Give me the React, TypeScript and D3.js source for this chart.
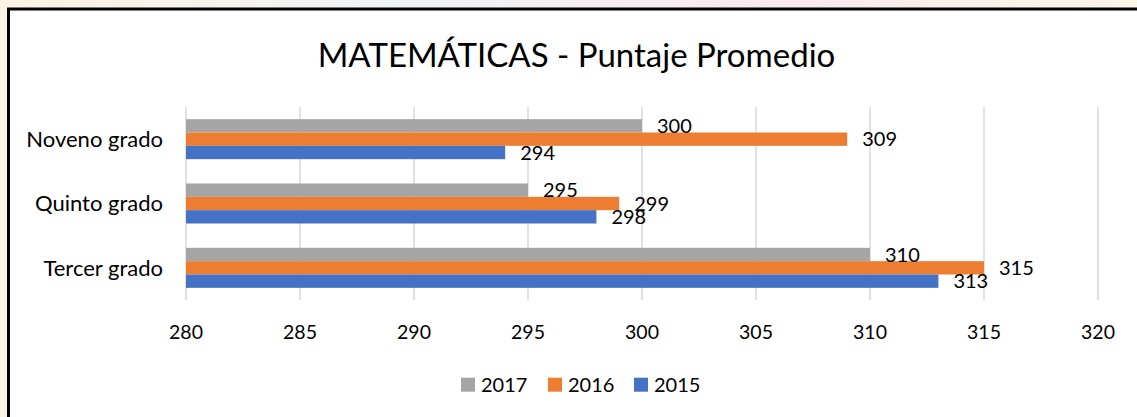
import React from "react";
import * as d3 from "d3";

const categories = ["Noveno grado", "Quinto grado", "Tercer grado"];
const seriesNames = ["2017", "2016", "2015"];
const values2017 = [300, 295, 310];
const values2016 = [309, 299, 315];
const values2015 = [294, 298, 313];
const xTicks = [280, 285, 290, 295, 300, 305, 310, 315, 320];
const seriesColors = ["#a5a5a5", "#ed7d31", "#4472c4"];
const titleText = "MATEMÁTICAS - Puntaje Promedio";

const W = 1137;
const H = 417;
const FONT = "Lato, 'Open Sans', sans-serif";

export default function App() {
  const seriesValues = [values2017, values2016, values2015];
  const x = d3.scaleLinear().domain([280, 320]).range([186, 1098]);
  const y = d3
    .scaleBand<string>()
    .domain(categories)
    .range([107, 300])
    .paddingInner(0.378)
    .paddingOuter(0.189);
  const inner = d3
    .scaleBand<string>()
    .domain(seriesNames)
    .range([0, y.bandwidth()]);

  const legendItems = [
    { name: "2017", color: seriesColors[0], sx: 461 },
    { name: "2016", color: seriesColors[1], sx: 548 },
    { name: "2015", color: seriesColors[2], sx: 634 },
  ];

  return (
    <svg
      width={W}
      height={H}
      style={{ position: "absolute", left: 0, top: 0, display: "block" }}
      fontFamily={FONT}
    >
      <defs>
        <linearGradient id="wm" x1="0" x2="1" y1="0" y2="0">
          <stop offset="0" stopColor="#fcf3e2" />
          <stop offset="0.2" stopColor="#f6f4ef" />
          <stop offset="0.35" stopColor="#eef3f5" />
          <stop offset="0.55" stopColor="#f7eef0" />
          <stop offset="0.7" stopColor="#f9e9ee" />
          <stop offset="0.9" stopColor="#fbf3ea" />
          <stop offset="1" stopColor="#fcf5e8" />
        </linearGradient>
      </defs>
      <rect x={0} y={0} width={W} height={H} fill="#fcf5e6" />
      <rect x={0} y={0} width={W} height={8} fill="url(#wm)" />
      <rect x={8.5} y={9} width={W + 10} height={H + 10} fill="#ffffff" stroke="#000000" strokeWidth={3} />

      <text
        x={576.5}
        y={67}
        textAnchor="middle"
        fontSize={33}
        fill="#000000"
      >
        {titleText}
      </text>

      {xTicks.map((t) => (
        <g key={t}>
          <line
            x1={x(t)}
            x2={x(t)}
            y1={107}
            y2={300}
            stroke="#d9d9d9"
            strokeWidth={1.5}
          />
          <text
            x={x(t)}
            y={339}
            textAnchor="middle"
            fontSize={19.5}
            fill="#000000"
          >
            {t}
          </text>
        </g>
      ))}

      {categories.map((c, ci) => (
        <g key={c} transform={`translate(0,${y(c)})`}>
          <text
            x={163}
            y={y.bandwidth() / 2}
            dy="0.36em"
            textAnchor="end"
            fontSize={22}
            fill="#000000"
          >
            {c}
          </text>
          {seriesNames.map((s, si) => {
            const v = seriesValues[si][ci];
            const by = inner(s) as number;
            return (
              <g key={s}>
                <rect
                  x={x(280)}
                  y={by}
                  width={x(v) - x(280)}
                  height={inner.bandwidth()}
                  fill={seriesColors[si]}
                />
              </g>
            );
          })}
          {seriesNames.map((s, si) => {
            const v = seriesValues[si][ci];
            const by = inner(s) as number;
            return (
              <text
                key={s}
                x={x(v) + 15}
                y={by + inner.bandwidth() / 2}
                dy="0.36em"
                fontSize={20}
                fill="#000000"
              >
                {v}
              </text>
            );
          })}
        </g>
      ))}

      {legendItems.map((it) => (
        <g key={it.name}>
          <rect x={it.sx} y={377.7} width={14} height={14} fill={it.color} />
          <text x={it.sx + 20} y={391.7} fontSize={20} fill="#000000">
            {it.name}
          </text>
        </g>
      ))}
    </svg>
  );
}
